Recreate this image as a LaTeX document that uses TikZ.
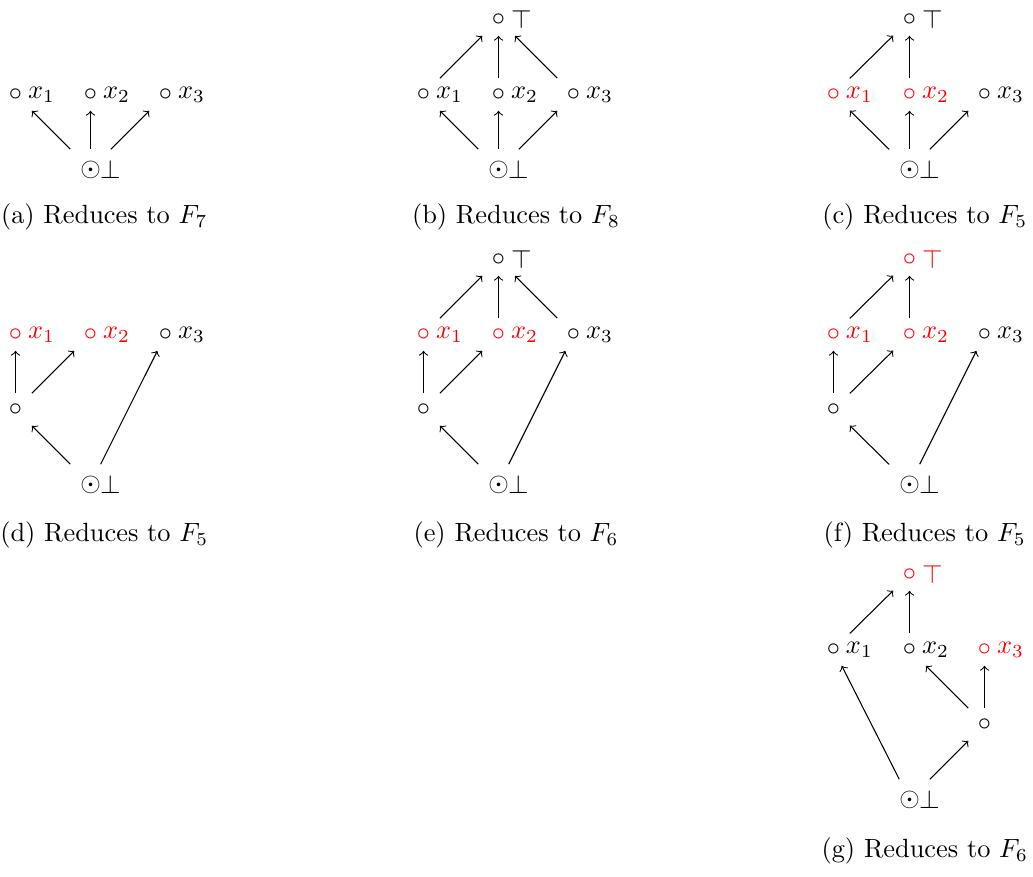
\documentclass[tikz,border=0pt]{standalone}
\usepackage{amsmath}

\begin{document}
\begin{tikzpicture}[
    >=to,
    pt/.style={inner sep=0pt, minimum size=12pt},
    botpt/.style={inner sep=0pt, minimum size=15pt},
    lab/.style={label distance=-5pt},
    botlab/.style={label distance=-7.6pt},
    subcap/.style={anchor=center}
]

    % fixed frame
    \useasboundingbox (0,0) rectangle (13.773,11.68);

    % --- (a) ---
    \node[pt, label={[lab]right:$x_1$}] (ax1) at (0.207,10.42) {$\circ$};
    \node[pt, label={[lab]right:$x_2$}] (ax2) at (1.207,10.42) {$\circ$};
    \node[pt, label={[lab]right:$x_3$}] (ax3) at (2.207,10.42) {$\circ$};
    \node[botpt, label={[botlab]right:$\bot$}] (abot) at (1.207,9.42) {$\odot$};
    \draw[->] (abot) -- (ax1);
    \draw[->] (abot) -- (ax2);
    \draw[->] (abot) -- (ax3);
    \node[subcap] (acap) at (1.39,8.79) {(a) Reduces to $F_7$};

    % --- (b) ---
    \node[pt, label={[lab]right:$\top$}] (btop) at (6.647,11.42) {$\circ$};
    \node[pt, label={[lab]right:$x_1$}] (bx1) at (5.647,10.42) {$\circ$};
    \node[pt, label={[lab]right:$x_2$}] (bx2) at (6.647,10.42) {$\circ$};
    \node[pt, label={[lab]right:$x_3$}] (bx3) at (7.647,10.42) {$\circ$};
    \node[botpt, label={[botlab]right:$\bot$}] (bbot) at (6.647,9.42) {$\odot$};
    \draw[->] (bbot) -- (bx1);
    \draw[->] (bbot) -- (bx2);
    \draw[->] (bbot) -- (bx3);
    \draw[->] (bx1) -- (btop);
    \draw[->] (bx2) -- (btop);
    \draw[->] (bx3) -- (btop);
    \node[subcap] (bcap) at (6.88,8.79) {(b) Reduces to $F_8$};

    % --- (c) ---
    \node[pt, label={[lab]right:$\top$}] (ctop) at (12.127,11.42) {$\circ$};
    \node[pt, red, label={[lab,red]right:$x_1$}] (cx1) at (11.113,10.42) {$\circ$};
    \node[pt, red, label={[lab,red]right:$x_2$}] (cx2) at (12.127,10.42) {$\circ$};
    \node[pt, label={[lab]right:$x_3$}] (cx3) at (13.127,10.42) {$\circ$};
    \node[botpt, label={[botlab]right:$\bot$}] (cbot) at (12.127,9.42) {$\odot$};
    \draw[->] (cbot) -- (cx1);
    \draw[->] (cbot) -- (cx2);
    \draw[->] (cbot) -- (cx3);
    \draw[->] (cx1) -- (ctop);
    \draw[->] (cx2) -- (ctop);
    \node[subcap] (ccap) at (12.33,8.79) {(c) Reduces to $F_5$};

    % --- (d) ---
    \node[pt, red, label={[lab,red]right:$x_1$}] (dx1) at (0.207,7.22) {$\circ$};
    \node[pt, red, label={[lab,red]right:$x_2$}] (dx2) at (1.207,7.22) {$\circ$};
    \node[pt, label={[lab]right:$x_3$}] (dx3) at (2.207,7.22) {$\circ$};
    \node[pt] (dmid) at (0.207,6.22) {$\circ$};
    \node[botpt, label={[botlab]right:$\bot$}] (dbot) at (1.207,5.22) {$\odot$};
    \draw[->] (dbot) -- (dmid);
    \draw[->] (dbot) -- (dx3);
    \draw[->] (dmid) -- (dx1);
    \draw[->] (dmid) -- (dx2);
    \node[subcap] (dcap) at (1.39,4.55) {(d) Reduces to $F_5$};

    % --- (e) ---
    \node[pt, label={[lab]right:$\top$}] (etop) at (6.647,8.22) {$\circ$};
    \node[pt, red, label={[lab,red]right:$x_1$}] (ex1) at (5.647,7.22) {$\circ$};
    \node[pt, red, label={[lab,red]right:$x_2$}] (ex2) at (6.647,7.22) {$\circ$};
    \node[pt, label={[lab]right:$x_3$}] (ex3) at (7.647,7.22) {$\circ$};
    \node[pt] (emid) at (5.647,6.22) {$\circ$};
    \node[botpt, label={[botlab]right:$\bot$}] (ebot) at (6.647,5.22) {$\odot$};
    \draw[->] (ebot) -- (emid);
    \draw[->] (ebot) -- (ex3);
    \draw[->] (emid) -- (ex1);
    \draw[->] (emid) -- (ex2);
    \draw[->] (ex1) -- (etop);
    \draw[->] (ex2) -- (etop);
    \draw[->] (ex3) -- (etop);
    \node[subcap] (ecap) at (6.88,4.55) {(e) Reduces to $F_6$};

    % --- (f) ---
    \node[pt, red, label={[lab,red]right:$\top$}] (ftop) at (12.127,8.22) {$\circ$};
    \node[pt, red, label={[lab,red]right:$x_1$}] (fx1) at (11.113,7.22) {$\circ$};
    \node[pt, red, label={[lab,red]right:$x_2$}] (fx2) at (12.127,7.22) {$\circ$};
    \node[pt, label={[lab]right:$x_3$}] (fx3) at (13.127,7.22) {$\circ$};
    \node[pt] (fmid) at (11.113,6.22) {$\circ$};
    \node[botpt, label={[botlab]right:$\bot$}] (fbot) at (12.127,5.22) {$\odot$};
    \draw[->] (fbot) -- (fmid);
    \draw[->] (fbot) -- (fx3);
    \draw[->] (fmid) -- (fx1);
    \draw[->] (fmid) -- (fx2);
    \draw[->] (fx1) -- (ftop);
    \draw[->] (fx2) -- (ftop);
    \node[subcap] (fcap) at (12.33,4.55) {(f) Reduces to $F_5$};

    % --- (g) ---
    \node[pt, red, label={[lab,red]right:$\top$}] (gtop) at (12.127,4.02) {$\circ$};
    \node[pt, label={[lab]right:$x_1$}] (gx1) at (11.113,3.02) {$\circ$};
    \node[pt, label={[lab]right:$x_2$}] (gx2) at (12.127,3.02) {$\circ$};
    \node[pt, red, label={[lab,red]right:$x_3$}] (gx3) at (13.127,3.02) {$\circ$};
    \node[pt] (gmid) at (13.127,2.02) {$\circ$};
    \node[botpt, label={[botlab]right:$\bot$}] (gbot) at (12.127,1.02) {$\odot$};
    \draw[->] (gbot) -- (gx1);
    \draw[->] (gbot) -- (gmid);
    \draw[->] (gmid) -- (gx2);
    \draw[->] (gmid) -- (gx3);
    \draw[->] (gx1) -- (gtop);
    \draw[->] (gx2) -- (gtop);
    \node[subcap] (gcap) at (12.33,0.34) {(g) Reduces to $F_6$};

\end{tikzpicture}
\end{document}
